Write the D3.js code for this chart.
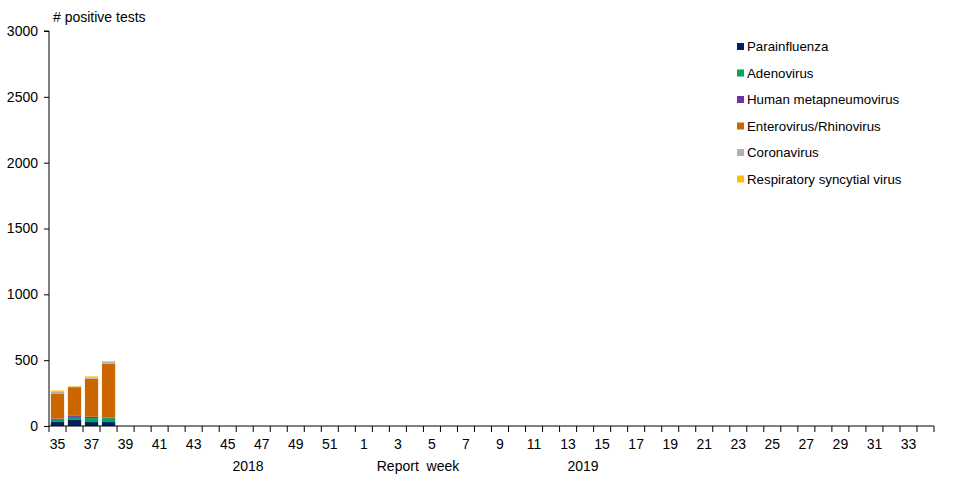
<!DOCTYPE html>
<html><head><meta charset="utf-8">
<script src="https://cdn.jsdelivr.net/npm/d3@7"></script>
<style>body{margin:0;background:#fff;} text{font-family:"Liberation Sans",Arial,sans-serif;}</style>
</head><body>
<svg id="c" width="962" height="480"></svg>
<script>
const weeks = [35,36,37,38,39,40,41,42,43,44,45,46,47,48,49,50,51,52,1,2,3,4,5,6,7,8,9,10,11,12,13,14,15,16,17,18,19,20,21,22,23,24,25,26,27,28,29,30,31,32,33,34];
const seriesNames = ["Parainfluenza","Adenovirus","Human metapneumovirus","Enterovirus/Rhinovirus","Coronavirus","Respiratory syncytial virus"];
const seriesColors = ["#002060","#00A65A","#7030A0","#CC6600","#B0B0B0","#FFC000"];
const dataWeeks = [35,36,37,38];
const parainfluenza = [30,46,30,30];
const adenovirus = [23,23,30,30];
const hmpv = [4,8,10,3];
const enterovirus = [190,218,289,410];
const coronavirus = [13,5,10,15];
const rsv = [10,3,8,5];
const yTicks = [0,500,1000,1500,2000,2500,3000];

const seriesValues = [parainfluenza,adenovirus,hmpv,enterovirus,coronavirus,rsv];
const table = weeks.map(w=>{
  const row={week:String(w)};
  const i=dataWeeks.indexOf(w);
  seriesNames.forEach((s,k)=>row[s]= i>=0 ? seriesValues[k][i] : 0);
  return row;
});

const svg=d3.select("#c");
const L=49,R=934,T=31,B=426;
const x=d3.scaleBand().domain(weeks.map(String)).range([L,R]).paddingInner(0.22).paddingOuter(0.11);
const xb=d3.scaleLinear().domain([0,weeks.length]).range([L,R]);
const y=d3.scaleLinear().domain([0,3000]).range([B,T]);

const stack=d3.stack().keys(seriesNames)(table);
svg.append("g").selectAll("g").data(stack).join("g")
  .attr("fill",(d,i)=>seriesColors[i])
  .selectAll("rect").data(d=>d).join("rect")
  .attr("x",d=>x(d.data.week)).attr("width",x.bandwidth())
  .attr("y",d=>y(d[1])).attr("height",d=>y(d[0])-y(d[1]));

// y axis
const ya=svg.append("g").attr("transform",`translate(${L},0)`)
  .call(d3.axisLeft(y).tickValues(yTicks).tickFormat(d3.format("d")).tickSize(5).tickPadding(6));
ya.select(".domain").attr("stroke","#000").attr("d",`M-5,${T}H0V${B}`);
ya.selectAll("text").attr("font-size",14).attr("fill","#000").attr("font-family","Liberation Sans, Arial, sans-serif");

// x axis
const xg=svg.append("g");
xg.append("line").attr("x1",L).attr("x2",R).attr("y1",B).attr("y2",B).attr("stroke","#000");
xg.selectAll("line.t").data(d3.range(weeks.length+1)).join("line").attr("class","t")
  .attr("x1",d=>xb(d)).attr("x2",d=>xb(d)).attr("y1",B).attr("y2",B+6).attr("stroke","#000");
xg.selectAll("text").data(weeks.filter((w,i)=>i%2===0)).join("text")
  .attr("x",w=>xb(weeks.indexOf(w)+0.5)).attr("y",449).attr("text-anchor","middle")
  .attr("font-size",14).text(w=>w);

svg.append("text").attr("x",248).attr("y",471).attr("text-anchor","middle").attr("font-size",14).text("2018");
svg.append("text").attr("x",418).attr("y",471).attr("text-anchor","middle").attr("font-size",14).style("white-space","pre").text("Report  week");
svg.append("text").attr("x",53).attr("y",22).attr("font-size",14).text("# positive tests");

svg.append("text").attr("x",583).attr("y",471).attr("text-anchor","middle").attr("font-size",14).text("2019");

// legend
const lg=svg.append("g");
seriesNames.forEach((s,i)=>{
  const yy=46+i*26.5;
  lg.append("rect").attr("x",737).attr("y",yy-3).attr("width",7).attr("height",7).attr("fill",seriesColors[i]);
  lg.append("text").attr("x",747).attr("y",yy+5).attr("font-size",13.3).text(s);
});
</script>
</body></html>
